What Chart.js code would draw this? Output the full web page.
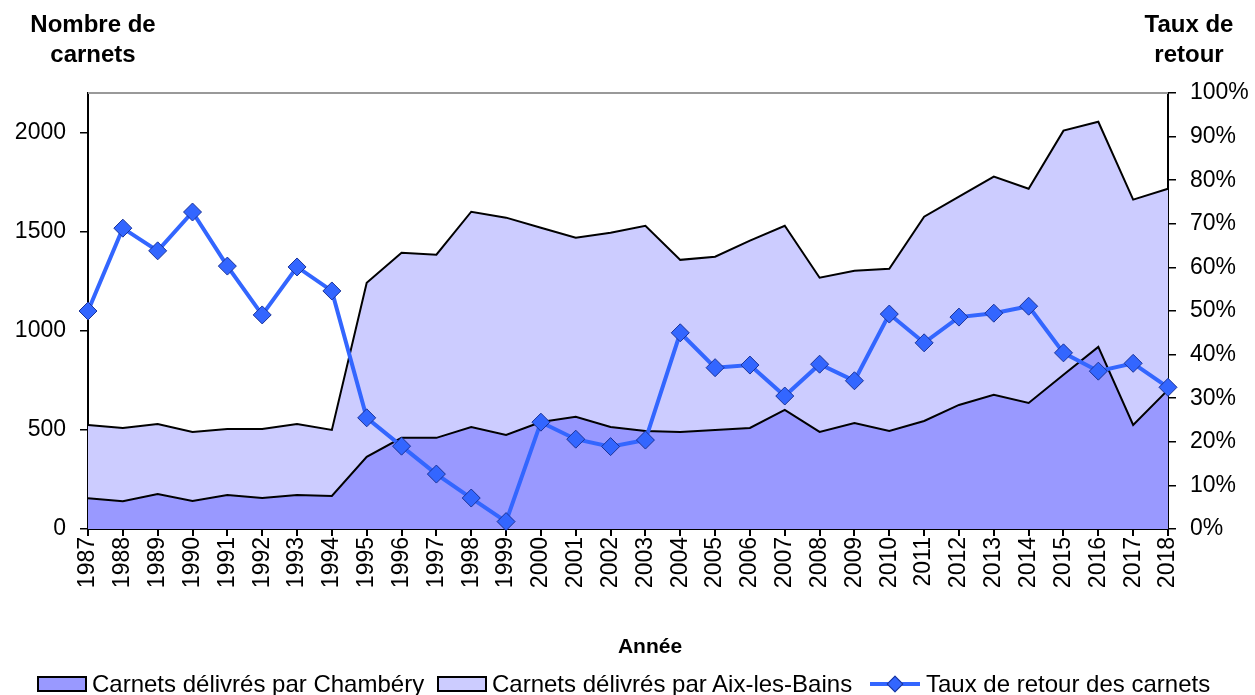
<!DOCTYPE html>
<html lang="fr">
<head>
<meta charset="utf-8">
<title>Carnets délivrés et taux de retour</title>
<script src="https://cdn.jsdelivr.net/npm/chart.js@4/dist/chart.umd.min.js"></script>
<style>
  html, body { margin: 0; padding: 0; background: #fff; }
  #wrap { position: relative; width: 1255px; height: 695px; font-family: "Liberation Sans", Arial, sans-serif; color: #000; }
  #chart { position: absolute; left: 0; top: 0; }
  .title { position: absolute; font-weight: bold; font-size: 24px; line-height: 30px; text-align: center; }
  #xtitle { position: absolute; left: 0; width: 1300px; top: 634px; text-align: center; font-weight: bold; font-size: 21px; }
  .leg { position: absolute; top: 670px; display: flex; align-items: center; font-size: 24px; white-space: nowrap; }
  .box { width: 46px; height: 12px; border: 2px solid #000; margin-right: 5px; }
  .lineKey { position: relative; width: 50px; height: 20px; margin-right: 6px; }
  .lineKey .bar { position: absolute; left: 0; right: 0; top: 8px; height: 4px; background: #3366FF; }
  .lineKey .dia { position: absolute; left: 19px; top: 4px; width: 10px; height: 10px; background: #3366FF; border: 1px solid #1a3399; transform: rotate(45deg); }
</style>
</head>
<body>
<div id="wrap">
  <canvas id="chart" width="1255" height="695"></canvas>
  <div class="title" style="left:23px; top:9px; width:140px;">Nombre de<br>carnets</div>
  <div class="title" style="left:1119px; top:9px; width:140px;">Taux de<br>retour</div>
  <div id="xtitle">Année</div>
  <div class="leg" style="left:37px;"><div class="box" style="background:#9999FF"></div>Carnets délivrés par Chambéry</div>
  <div class="leg" style="left:437px;"><div class="box" style="background:#CCCCFF"></div>Carnets délivrés par Aix-les-Bains</div>
  <div class="leg" style="left:870px;"><div class="lineKey"><div class="bar"></div><div class="dia"></div></div>Taux de retour des carnets</div>
</div>
<script>
const years = ['1987', '1988', '1989', '1990', '1991', '1992', '1993', '1994',
  '1995', '1996', '1997', '1998', '1999', '2000', '2001', '2002', '2003',
  '2004', '2005', '2006', '2007', '2008', '2009', '2010', '2011', '2012',
  '2013', '2014', '2015', '2016', '2017', '2018'];

// carnets délivrés par Chambéry
const chambery = [155, 140, 177, 141, 172, 157, 172, 167, 364, 460, 460, 515,
  475, 540, 566, 515, 495, 490, 500, 510, 601, 490, 535, 495, 545, 626, 677,
  636, 778, 919, 525, 702];

// carnets délivrés par Aix-les-Bains (empilés au-dessus de Chambéry)
const aix = [370, 370, 353, 349, 333, 348, 358, 333, 878, 934, 924, 1086,
  1096, 980, 904, 980, 1035, 868, 874, 945, 929, 778, 768, 818, 1031, 1051,
  1101, 1081, 1232, 1136, 1137, 1015];

// taux de retour des carnets, en %
const taux = [50.0, 69.0, 63.8, 72.7, 60.3, 49.1, 60.1, 54.6, 25.5, 19.0,
  12.6, 7.1, 1.7, 24.5, 20.6, 18.9, 20.4, 45.0, 37.0, 37.6, 30.5, 37.8, 34.0,
  49.3, 42.7, 48.6, 49.5, 51.1, 40.4, 36.2, 38.0, 32.5];

const countTicks = [0, 500, 1000, 1500, 2000];
const countMax = 2200;
const rateMax = 100;

const tickFont = { family: 'Liberation Sans', size: 23 };

// fine bordure grise en haut de la zone de tracé
const topBorder = {
  id: 'topBorder',
  afterDatasetsDraw(chart) {
    const a = chart.chartArea;
    const ctx = chart.ctx;
    ctx.save();
    ctx.strokeStyle = '#999';
    ctx.lineWidth = 2;
    ctx.beginPath();
    ctx.moveTo(a.left, a.top);
    ctx.lineTo(a.right, a.top);
    ctx.stroke();
    ctx.restore();
  }
};

new Chart(document.getElementById('chart'), {
  type: 'line',
  data: {
    labels: years,
    datasets: [
      {
        label: 'Carnets délivrés par Chambéry',
        data: chambery,
        yAxisID: 'y',
        order: 1,
        fill: 'origin',
        backgroundColor: '#9999FF',
        borderColor: '#000',
        borderWidth: 2,
        pointRadius: 0,
        tension: 0
      },
      {
        label: 'Carnets délivrés par Aix-les-Bains',
        data: aix,
        yAxisID: 'y',
        order: 2,
        fill: '-1',
        backgroundColor: '#CCCCFF',
        borderColor: '#000',
        borderWidth: 2,
        pointRadius: 0,
        tension: 0
      },
      {
        label: 'Taux de retour des carnets',
        data: taux,
        yAxisID: 'y1',
        order: 0,
        fill: false,
        borderColor: '#3366FF',
        borderWidth: 4,
        pointStyle: 'rectRot',
        pointRadius: 9,
        pointBackgroundColor: '#3366FF',
        pointBorderColor: '#1a3399',
        pointBorderWidth: 1,
        tension: 0,
        clip: false
      }
    ]
  },
  options: {
    responsive: false,
    animation: false,
    devicePixelRatio: 1,
    layout: { padding: { top: 93, left: 0, right: 0, bottom: 0 } },
    plugins: {
      legend: { display: false },
      tooltip: { enabled: false }
    },
    scales: {
      x: {
        offset: false,
        grid: { display: true, drawOnChartArea: false, color: '#000', tickLength: 7, lineWidth: 2 },
        border: { color: '#000', width: 2 },
        ticks: { color: '#000', font: tickFont, minRotation: 90, maxRotation: 90, padding: 1, autoSkip: false },
        afterFit(scale) { scale.height = 166; }
      },
      y: {
        position: 'left',
        stacked: true,
        min: 0,
        max: countMax,
        grid: { display: true, drawOnChartArea: false, color: '#000', tickLength: 8, lineWidth: 1.5 },
        border: { color: '#000', width: 2 },
        ticks: { color: '#000', font: tickFont, stepSize: 500, padding: 14, callback: v => String(v) },
        afterBuildTicks(scale) {
          scale.ticks = countTicks.map(v => ({ value: v }));
        },
        afterFit(scale) { scale.width = 88; }
      },
      y1: {
        position: 'right',
        min: 0,
        max: rateMax,
        grid: { display: true, drawOnChartArea: false, color: '#000', tickLength: 8, lineWidth: 1.5 },
        border: { color: '#000', width: 2 },
        ticks: { color: '#000', font: tickFont, stepSize: 10, padding: 14, callback: v => v + '%' },
        afterFit(scale) { scale.width = 87; }
      }
    }
  },
  plugins: [topBorder]
});
</script>
</body>
</html>
